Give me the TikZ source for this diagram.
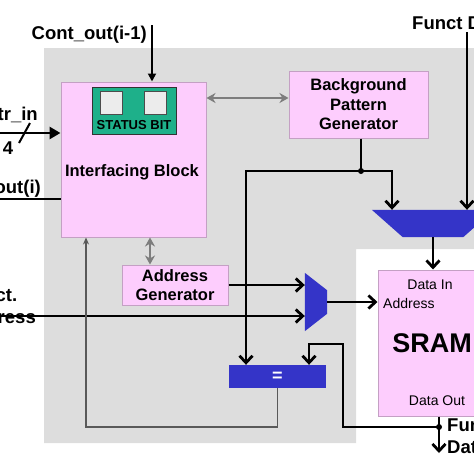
\documentclass[tikz,border=0pt]{standalone}
\usepackage{fontspec}
\setmainfont{Liberation Sans}
\usetikzlibrary{arrows.meta, calc, positioning, shapes.geometric}
\definecolor{blockpink}{RGB}{253,205,253}
\definecolor{pinkedge}{RGB}{196,160,196}
\definecolor{areagray}{RGB}{221,221,221}
\definecolor{muxblue}{RGB}{52,52,200}
\definecolor{statusgreen}{RGB}{30,176,138}
\definecolor{linkgray}{RGB}{125,125,125}

\begin{document}
\begin{tikzpicture}[x=1pt, y=-1pt,
    block/.style={draw=pinkedge, fill=blockpink, rectangle, line width=1pt, inner sep=0pt, align=center, font=\bfseries\fontsize{16.5}{19.5}\selectfont},
    extlabel/.style={inner sep=0pt, font=\bfseries\fontsize{18.5}{22}\selectfont},
    portlabel/.style={inner sep=0pt, font=\fontsize{14}{16}\selectfont},
    muxbox/.style={rectangle, inner sep=0pt},
    arrow/.style={-{Straight Barb[length=7pt, width=13pt]}, line width=2.8pt},
    bus/.style={line width=2.8pt},
    duplex/.style={{Stealth[length=9pt, width=10pt]}-{Stealth[length=9pt, width=10pt]}, linkgray, line width=2.5pt},
    ret/.style={-{Stealth[length=7pt, width=6pt]}, black!65, line width=1.3pt}
]
\useasboundingbox (0,0) rectangle (474,474);
\clip (0,0) rectangle (474,474);

% Test area
\fill[areagray] (44,48) -- (490,48) -- (490,249) -- (356,249) -- (356,443) -- (44,443) -- cycle;

% Interfacing block
\node[block, minimum width=145pt, minimum height=155pt] (ib) at (133.5,159.5) {};
\node[inner sep=0pt, anchor=base, font=\bfseries\fontsize{16.5}{19.5}\selectfont] (ibname) at (132,176) {Interfacing Block};
\node[draw=black!80, fill=statusgreen, minimum width=84pt, minimum height=47pt, inner sep=0pt] (status) at (134,110.5) {};
\node[draw=black!70, fill=gray!15, minimum width=22pt, minimum height=23pt, inner sep=0pt] (bitA) at (111,102.5) {};
\node[draw=black!70, fill=gray!15, minimum width=22pt, minimum height=23pt, inner sep=0pt] (bitB) at (155.5,102.5) {};
\node[inner sep=0pt, anchor=base, font=\bfseries\fontsize{13}{15}\selectfont] (statusname) at (134,129) {STATUS BIT};

% Generators
\node[block, minimum width=139pt, minimum height=67pt] (bpg) at (358.5,104.5) {Background\\Pattern\\Generator};
\node[block, minimum width=106pt, minimum height=40pt] (ag) at (175,285) {Address\\Generator};

% Multiplexers and comparator
\node[muxbox, minimum width=122pt, minimum height=27pt] (mtop) at (433,223.5) {};
\fill[muxblue] (mtop.north west) -- (mtop.north east) -- ($(mtop.south east)+(-31,0)$) -- ($(mtop.south west)+(31,0)$) -- cycle;
\node[muxbox, minimum width=22pt, minimum height=58pt] (msel) at (316,302) {};
\fill[muxblue] (msel.north west) -- ($(msel.north east)+(0,17.5)$) -- ($(msel.south east)+(0,-17.5)$) -- (msel.south west) -- cycle;
\node[fill=muxblue, minimum width=97pt, minimum height=23pt, inner sep=0pt, text=white, font=\bfseries\fontsize{18}{20}\selectfont] (eq) at (277.5,376.5) {=};

% SRAM
\node[block, minimum width=108pt, minimum height=146pt, font=\bfseries\fontsize{27}{30}\selectfont] (sram) at (432,343) {SRAM};
\node[portlabel, anchor=base] (din) at (430,289) {Data In};
\node[portlabel, anchor=base west] (addr) at (383,308) {Address};
\node[portlabel, anchor=base] (dout) at (437,405.5) {Data Out};

% Outside labels
\node[extlabel, anchor=base east] (contprev) at (147,39) {Cont\_out(i-1)};
\node[extlabel, anchor=base east] (instr) at (38,120) {Instr\_in};
\node[extlabel, anchor=base] (width) at (8,154) {4};
\node[extlabel, anchor=base east] (contcur) at (41,193) {Cont\_out(i)};
\node[extlabel, anchor=base east, align=left] (faddrname) at (36,323) {Funct.\\Address};
\node[extlabel, anchor=base west] (fdataname) at (412,29) {Funct Data};
\node[extlabel, anchor=base west, align=left] (foutname) at (447,453) {Funct.\\Data};

% Free ends and bends
\coordinate (contin) at (152,25);
\coordinate (instrin) at (0,133);
\coordinate (contout) at (0,199);
\coordinate (faddr) at (0,316);
\coordinate (fdata) at (467,32);
\coordinate (bpgdot) at (361,171);
\coordinate (bpgleft) at (246,171);
\coordinate (bpgright) at (392,171);
\coordinate (outdot) at (439,427);
\coordinate (outend) at (439,453);
\coordinate (fbcorner) at (343,344);
\coordinate (fbdrop) at (309,344);
\coordinate (retlow) at (86,427);

% Inputs of the interfacing block
\draw[-{Triangle[length=8pt, width=8pt]}, line width=1.8pt] (contin) -- (contin |- ib.north);
\draw[-{Triangle[length=11pt, width=12pt]}, line width=2.8pt] (instrin) -- (instrin -| ib.west);
\draw[line width=2pt] (19,143) -- (30,123);
\draw[line width=1.5pt] (contout) -- (contout -| ib.west);

% Gray links
\draw[duplex] (ib.east |- 0,98) -- (bpg.west |- 0,98);
\draw[duplex] (ib.south -| 150,0) -- (ag.north -| 150,0);

% Background pattern
\draw[bus] (bpg.south -| bpgdot) -- (bpgdot);
\draw[arrow] (bpgdot) -- (bpgright) -- (bpgright |- mtop.north);
\draw[arrow] (bpgdot) -- (bpgleft) -- (bpgleft |- eq.north);
\fill (bpgdot) circle (3pt);
\draw[arrow] (fdata) -- (fdata |- mtop.north);
\draw[arrow] (mtop.south) -- (mtop.south |- sram.north);

% Address path
\draw[arrow] (ag.east) -- (ag.east -| msel.west);
\draw[arrow] (faddr) -- (faddr -| msel.west);
\draw[arrow] (msel.east) -- (msel.east -| sram.west);

% Data out and compare
\draw[bus] (sram.south -| outdot) -- (outdot);
\draw[arrow] (outdot) -- (outend);
\draw[arrow] (outdot) -| (fbcorner) -- (fbdrop) -- (fbdrop |- eq.north);
\fill (outdot) circle (3pt);
\draw[ret] (eq.south) |- (retlow) -- (retlow |- ib.south);

\end{tikzpicture}
\end{document}
